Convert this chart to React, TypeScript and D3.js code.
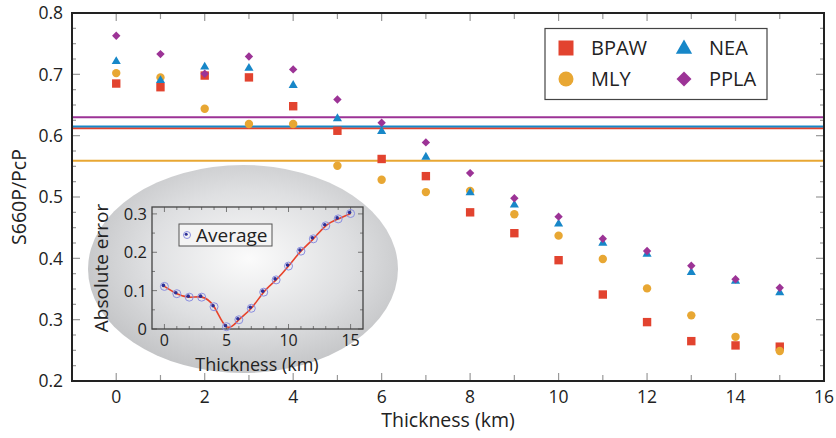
import * as d3 from 'd3';

const thickness = [0, 1, 2, 3, 4, 5, 6, 7, 8, 9, 10, 11, 12, 13, 14, 15];
const seriesNames = ['BPAW', 'MLY', 'NEA', 'PPLA'];
const bpaw = [0.685, 0.679, 0.698, 0.695, 0.648, 0.608, 0.562, 0.534, 0.475, 0.441, 0.397, 0.341, 0.296, 0.265, 0.258, 0.256];
const mly = [0.702, 0.695, 0.644, 0.619, 0.619, 0.551, 0.528, 0.508, 0.51, 0.472, 0.437, 0.399, 0.351, 0.307, 0.272, 0.249];
const nea = [0.721, 0.69, 0.712, 0.71, 0.682, 0.628, 0.607, 0.565, 0.507, 0.487, 0.456, 0.425, 0.407, 0.377, 0.363, 0.344];
const ppla = [0.763, 0.733, 0.701, 0.729, 0.708, 0.659, 0.621, 0.589, 0.539, 0.498, 0.468, 0.432, 0.412, 0.388, 0.366, 0.352];
const meanLines = [0.612, 0.559, 0.615, 0.63];
const avgError = [0.111, 0.092, 0.083, 0.083, 0.058, 0.006, 0.024, 0.054, 0.096, 0.128, 0.164, 0.203, 0.235, 0.269, 0.287, 0.301];

const xTicks = [0, 2, 4, 6, 8, 10, 12, 14, 16];
const yTicks = [0.2, 0.3, 0.4, 0.5, 0.6, 0.7, 0.8];
const insetXTicks = [0, 5, 10, 15];
const insetYTicks = [0, 0.1, 0.2, 0.3];

const colors = ['#e2432f', '#e8a733', '#1787c8', '#9c3396'];
const font = '"Open Sans", sans-serif';

const W = 836;
const H = 438;
const M = { left: 72, right: 824, top: 13, bottom: 381 };

// symbol path for each series at a given scale
function markerPath(i: number, big: boolean) {
  const k = big ? 1 : 0.56;
  if (i === 0) return d3.symbol(d3.symbolSquare, 225 * k * k)()!;
  if (i === 1) return d3.symbol(d3.symbolCircle, 177 * k * k)()!;
  if (i === 2) return d3.symbol(d3.symbolTriangle, 115 * k * k)()!;
  return d3.symbol(d3.symbolSquare, 112 * k * k)()!;
}

function Marker({ i, x, y, big }: { i: number; x: number; y: number; big?: boolean }) {
  const rot = i === 3 ? ' rotate(45)' : '';
  return <path d={markerPath(i, !!big)} transform={`translate(${x},${y})${rot}`} fill={colors[i]} />;
}

export default function App() {
  const series = [bpaw, mly, nea, ppla];
  const x = d3.scaleLinear().domain([-1, 16]).range([M.left, M.right]);
  const y = d3.scaleLinear().domain([0.2, 0.8]).range([M.bottom, M.top]);

  const ix = d3.scaleLinear().domain([-1, 16]).range([152, 363]);
  const iy = d3.scaleLinear().domain([0, 0.318]).range([329, 207]);

  const curve = d3
    .line<number>()
    .x((_, i) => ix(thickness[i]))
    .y((d) => iy(d))
    .curve(d3.curveNatural);

  const xMinor = d3.range(-1, 16.01, 1);
  const yMinor = d3.range(0.2, 0.8001, 0.025);
  const ixMinor = d3.range(0, 16, 1);
  const iyMinor = d3.range(0, 0.3001, 0.05);

  return (
    <svg width={W} height={H} style={{ position: 'absolute', left: 0, top: 0, background: '#fff' }} fontFamily={font}>
      <defs>
        <radialGradient id="bubble" cx="0.52" cy="0.45" r="0.55">
          <stop offset="0" stopColor="#fbfbfb" />
          <stop offset="0.6" stopColor="#dedfe1" />
          <stop offset="1" stopColor="#c4c5c7" />
        </radialGradient>
      </defs>

      {/* mean lines */}
      {meanLines.map((v, i) => (
        <line key={i} x1={M.left} x2={M.right} y1={y(v)} y2={y(v)} stroke={colors[i]} strokeWidth={2} />
      ))}

      {/* points */}
      {series.map((s, i) => (
        <g key={i}>
          {s.map((v, j) => (
            <Marker key={j} i={i} x={x(thickness[j])} y={y(v)} />
          ))}
        </g>
      ))}

      {/* ticks */}
      <g stroke="#999" strokeWidth={1.2}>
        {xMinor.map((t) => {
          const len = Math.round(t) % 2 === 0 ? 8 : 6;
          return (
            <g key={t}>
              <line x1={x(t)} x2={x(t)} y1={M.bottom} y2={M.bottom - len} />
              <line x1={x(t)} x2={x(t)} y1={M.top} y2={M.top + len} />
            </g>
          );
        })}
        {yMinor.map((t, k) => {
          const len = k % 4 === 0 ? 8 : 4;
          return (
            <g key={k}>
              <line x1={M.left} x2={M.left + len} y1={y(t)} y2={y(t)} />
              <line x1={M.right} x2={M.right - len} y1={y(t)} y2={y(t)} />
            </g>
          );
        })}
      </g>
      <rect x={M.left} y={M.top} width={M.right - M.left} height={M.bottom - M.top} fill="none" stroke="#222" strokeWidth={2} />

      {/* tick labels */}
      {xTicks.map((t) => (
        <text key={t} x={x(t)} y={403} textAnchor="middle" fontSize={17.5} fill="#222">
          {t}
        </text>
      ))}
      {yTicks.map((t) => (
        <text key={t} x={63} y={y(t)} dy="0.36em" textAnchor="end" fontSize={17.5} fill="#222">
          {t.toFixed(1)}
        </text>
      ))}
      <text x={(M.left + M.right) / 2} y={427} textAnchor="middle" fontSize={19.5} fill="#222">
        Thickness (km)
      </text>
      <text transform={`translate(26,${(M.top + M.bottom) / 2}) rotate(-90)`} textAnchor="middle" fontSize={19.5} fill="#222">
        S660P/PcP
      </text>

      {/* legend */}
      <rect x={545} y={28.5} width={222} height={71} fill="#fff" stroke="#444" strokeWidth={1.2} />
      {seriesNames.map((name, i) => {
        const col = i === 0 || i === 1 ? 0 : 1;
        const row = i === 0 || i === 2 ? 0 : 1;
        const mx = col === 0 ? 566 : 684;
        const my = row === 0 ? 48 : 79;
        return (
          <g key={name}>
            <Marker i={i} x={mx} y={my + (i === 2 ? 1 : 0)} big />
            <text x={mx + 25} y={my} dy="0.36em" fontSize={20} fill="#222">
              {name}
            </text>
          </g>
        );
      })}

      {/* inset */}
      <ellipse cx={243} cy={269} rx={155} ry={104} fill="url(#bubble)" />
      <g stroke="#777" strokeWidth={1}>
        {ixMinor.map((t) => {
          const len = t % 5 === 0 ? 5 : 3;
          return (
            <g key={t}>
              <line x1={ix(t)} x2={ix(t)} y1={329} y2={329 - len} />
              <line x1={ix(t)} x2={ix(t)} y1={207} y2={207 + len} />
            </g>
          );
        })}
        {iyMinor.map((t, k) => {
          const len = k % 2 === 0 ? 5 : 3;
          return (
            <g key={k}>
              <line x1={152} x2={152 + len} y1={iy(t)} y2={iy(t)} />
              <line x1={363} x2={363 - len} y1={iy(t)} y2={iy(t)} />
            </g>
          );
        })}
      </g>
      <rect x={152} y={207} width={211} height={122} fill="none" stroke="#444" strokeWidth={1.3} />
      <path d={curve(avgError)!} fill="none" stroke="#e8432a" strokeWidth={1.6} />
      {avgError.map((v, j) => (
        <g key={j} transform={`translate(${ix(thickness[j])},${iy(v)})`}>
          <circle r={4} fill="none" stroke="#8a8ee0" strokeWidth={1} />
          <circle cx={-1} cy={-1} r={1.8} fill="#2b2f96" />
        </g>
      ))}
      {insetXTicks.map((t) => (
        <text key={t} x={ix(t)} y={346} textAnchor="middle" fontSize={16} fill="#222">
          {t}
        </text>
      ))}
      {insetYTicks.map((t) => (
        <text key={t} x={147} y={iy(t)} dy="0.36em" textAnchor="end" fontSize={16.5} fill="#222">
          {t === 0 ? '0' : t.toFixed(1)}
        </text>
      ))}
      <text x={257} y={370.5} textAnchor="middle" fontSize={18} fill="#222">
        Thickness (km)
      </text>
      <text transform={`translate(108,268) rotate(-90)`} textAnchor="middle" fontSize={19} fill="#222">
        Absolute error
      </text>
      <rect x={179} y={224} width={93} height={22} fill="#f4f4f4" stroke="#555" strokeWidth={1} />
      <g transform="translate(187,235)">
        <circle r={3.5} fill="none" stroke="#8a8ee0" strokeWidth={1} />
        <circle cx={-0.8} cy={-0.8} r={1.5} fill="#2b2f96" />
      </g>
      <text x={196} y={235} dy="0.36em" fontSize={19} fill="#222">
        Average
      </text>
    </svg>
  );
}
